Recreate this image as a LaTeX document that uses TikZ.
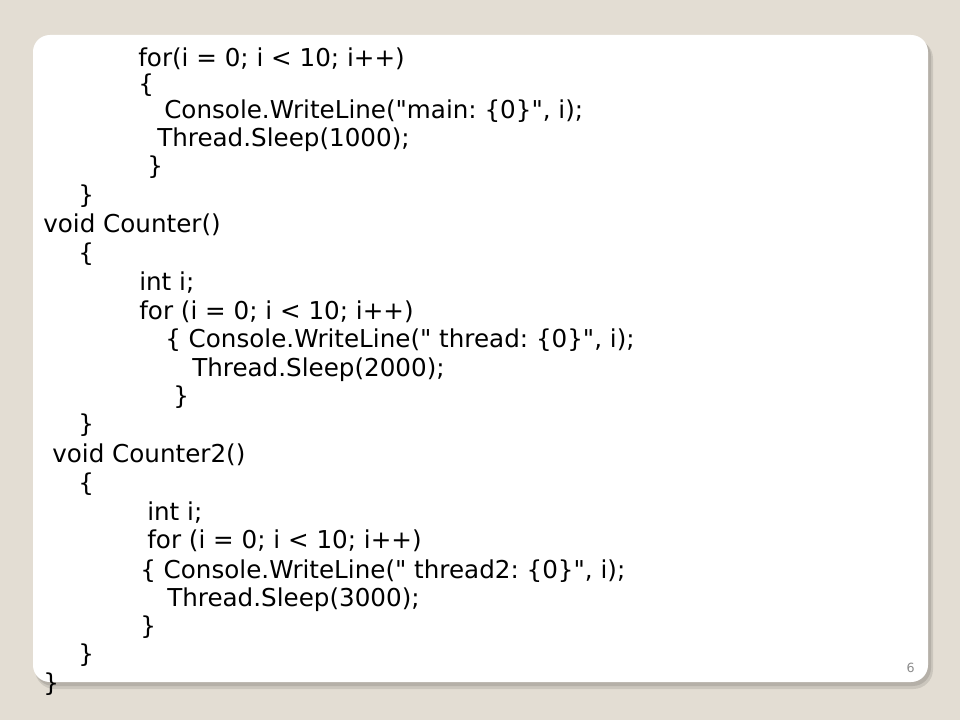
\documentclass[tikz,border=0pt]{standalone}
\usepackage{fontspec}
\setmainfont{DejaVu Sans}
\setmonofont{DejaVu Sans}
\usepackage{xcolor}
\usetikzlibrary{positioning}
\definecolor{slidebg}{RGB}{227,221,211}
\definecolor{shadowgrey}{RGB}{160,156,148}
\definecolor{pagegrey}{RGB}{140,140,140}

\begin{document}
\begin{tikzpicture}[x=0.025cm, y=-0.025cm,
code line/.style={anchor=base west, inner sep=0pt, font=\ttfamily\fontsize{17.5}{21}\selectfont},
page num/.style={anchor=base east, inner sep=0pt, text=pagegrey, font=\fontsize{9}{11}\selectfont}]

\fill[slidebg] (0,0) rectangle (960,720);
\useasboundingbox (0,0) rectangle (960,720);

% card and its shadow
\fill[shadowgrey, opacity=0.35, rounded corners=14] (35,39) rectangle (933,689);
\fill[shadowgrey, opacity=0.5, rounded corners=13] (35,38) rectangle (931,686);
\fill[white, rounded corners=12] (33,35) rectangle (928,682);

\node[code line] (l1)  at (138,67)  {for(i = 0; i < 10; i++)};
\node[code line] (l2)  at (138,93)  {\{};
\node[code line] (l3)  at (164,119) {Console.WriteLine("main: \{0\}", i);};
\node[code line] (l4)  at (157,147) {Thread.Sleep(1000);};
\node[code line] (l5)  at (147,175) {\}};
\node[code line] (l6)  at (78,204)  {\}};
\node[code line] (l7)  at (43,233)  {void Counter()};
\node[code line] (l8)  at (78,262)  {\{};
\node[code line] (l9)  at (139,291) {int i;};
\node[code line] (l10) at (139,320) {for (i = 0; i < 10; i++)};
\node[code line] (l11) at (165,348) {\{ Console.WriteLine(" thread: \{0\}", i);};
\node[code line] (l12) at (192,377) {Thread.Sleep(2000);};
\node[code line] (l13) at (173,405) {\}};
\node[code line] (l14) at (78,433)  {\}};
\node[code line] (l15) at (52,463)  {void Counter2()};
\node[code line] (l16) at (78,492)  {\{};
\node[code line] (l17) at (147,521) {int i;};
\node[code line] (l18) at (147,549) {for (i = 0; i < 10; i++)};
\node[code line] (l19) at (140,578) {\{ Console.WriteLine(" thread2: \{0\}", i);};
\node[code line] (l20) at (167,606) {Thread.Sleep(3000);};
\node[code line] (l21) at (140,634) {\}};
\node[code line] (l22) at (78,662)  {\}};
\node[code line] (l23) at (43,691)  {\}};

\node[page num] (pg) at (915,672) {6};
\end{tikzpicture}
\end{document}
